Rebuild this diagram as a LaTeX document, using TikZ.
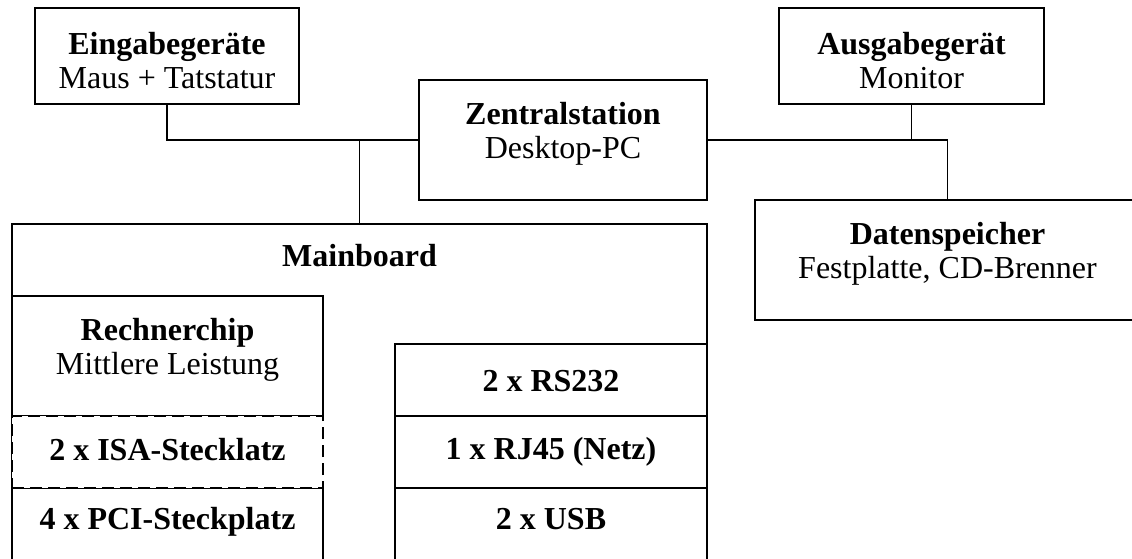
\documentclass[tikz,border=0pt]{standalone}
\usepackage{fontspec}
\setmainfont{Liberation Serif}
\begin{document}
\begin{tikzpicture}[x=1pt,y=-1pt,
  box/.style={draw, line width=1.3pt, inner sep=0pt, outer sep=0pt, fill=white},
  dbox/.style={box, dash pattern=on 12pt off 6pt},
  wire/.style={line width=1.3pt},
  txt/.style={anchor=base, inner sep=0pt, font=\fontsize{32}{36}\selectfont},
  btxt/.style={txt, font=\fontsize{32}{36}\selectfont\bfseries}]
\useasboundingbox (0,0) rectangle (1132,558);
% boxes
\node[box, minimum width=264pt, minimum height=96pt] (ein) at (167,56) {};
\node[box, minimum width=288pt, minimum height=120pt] (zen) at (563,140) {};
\node[box, minimum width=265pt, minimum height=96pt] (aus) at (911.5,56) {};
\node[box, minimum width=385pt, minimum height=120pt] (ds) at (947.5,260) {};
\node[box, minimum width=695pt, minimum height=376pt] (mb) at (359.5,412) {};
\node[box, minimum width=311pt, minimum height=120pt] (rc) at (167.5,356) {};
\node[box, minimum width=311pt, minimum height=72pt] (pci) at (167.5,524) {};
\node[dbox, minimum width=311pt, minimum height=72pt] (isa) at (167.5,452) {};
\node[box, minimum width=312pt, minimum height=72pt] (rs) at (551,380) {};
\node[box, minimum width=312pt, minimum height=72pt] (rj) at (551,452) {};
\node[box, minimum width=312pt, minimum height=72pt] (usb) at (551,524) {};
% connectors
\draw[wire] (ein.south) |- (zen.west);
\draw[wire] (mb.north) -- (mb.north |- zen.west);
\draw[wire] (zen.east) -| (ds.north);
\draw[wire] (aus.south) -- (aus.south |- zen.east);
% texts
\node[btxt] (t1) at (167,54) {Eingabegeräte};
\node[txt] (t2) at (167,88) {Maus + Tatstatur};
\node[btxt] (t3) at (563,124) {Zentralstation};
\node[txt] (t4) at (563,158) {Desktop-PC};
\node[btxt] (t5) at (911.5,54) {Ausgabegerät};
\node[txt] (t6) at (911.5,88) {Monitor};
\node[btxt] (t7) at (947.5,244) {Datenspeicher};
\node[txt] (t8) at (947.5,278) {Festplatte, CD-Brenner};
\node[btxt] (t9) at (359.5,266) {Mainboard};
\node[btxt] (t10) at (167.5,340) {Rechnerchip};
\node[txt] (t11) at (167.5,374) {Mittlere Leistung};
\node[btxt] (t12) at (167.5,460) {2 x ISA-Stecklatz};
\node[btxt] (t13) at (167.5,529) {4 x PCI-Steckplatz};
\node[btxt] (t14) at (551,391) {2 x RS232};
\node[btxt] (t15) at (551,459) {1 x RJ45 (Netz)};
\node[btxt] (t16) at (551,529) {2 x USB};
\end{tikzpicture}
\end{document}
